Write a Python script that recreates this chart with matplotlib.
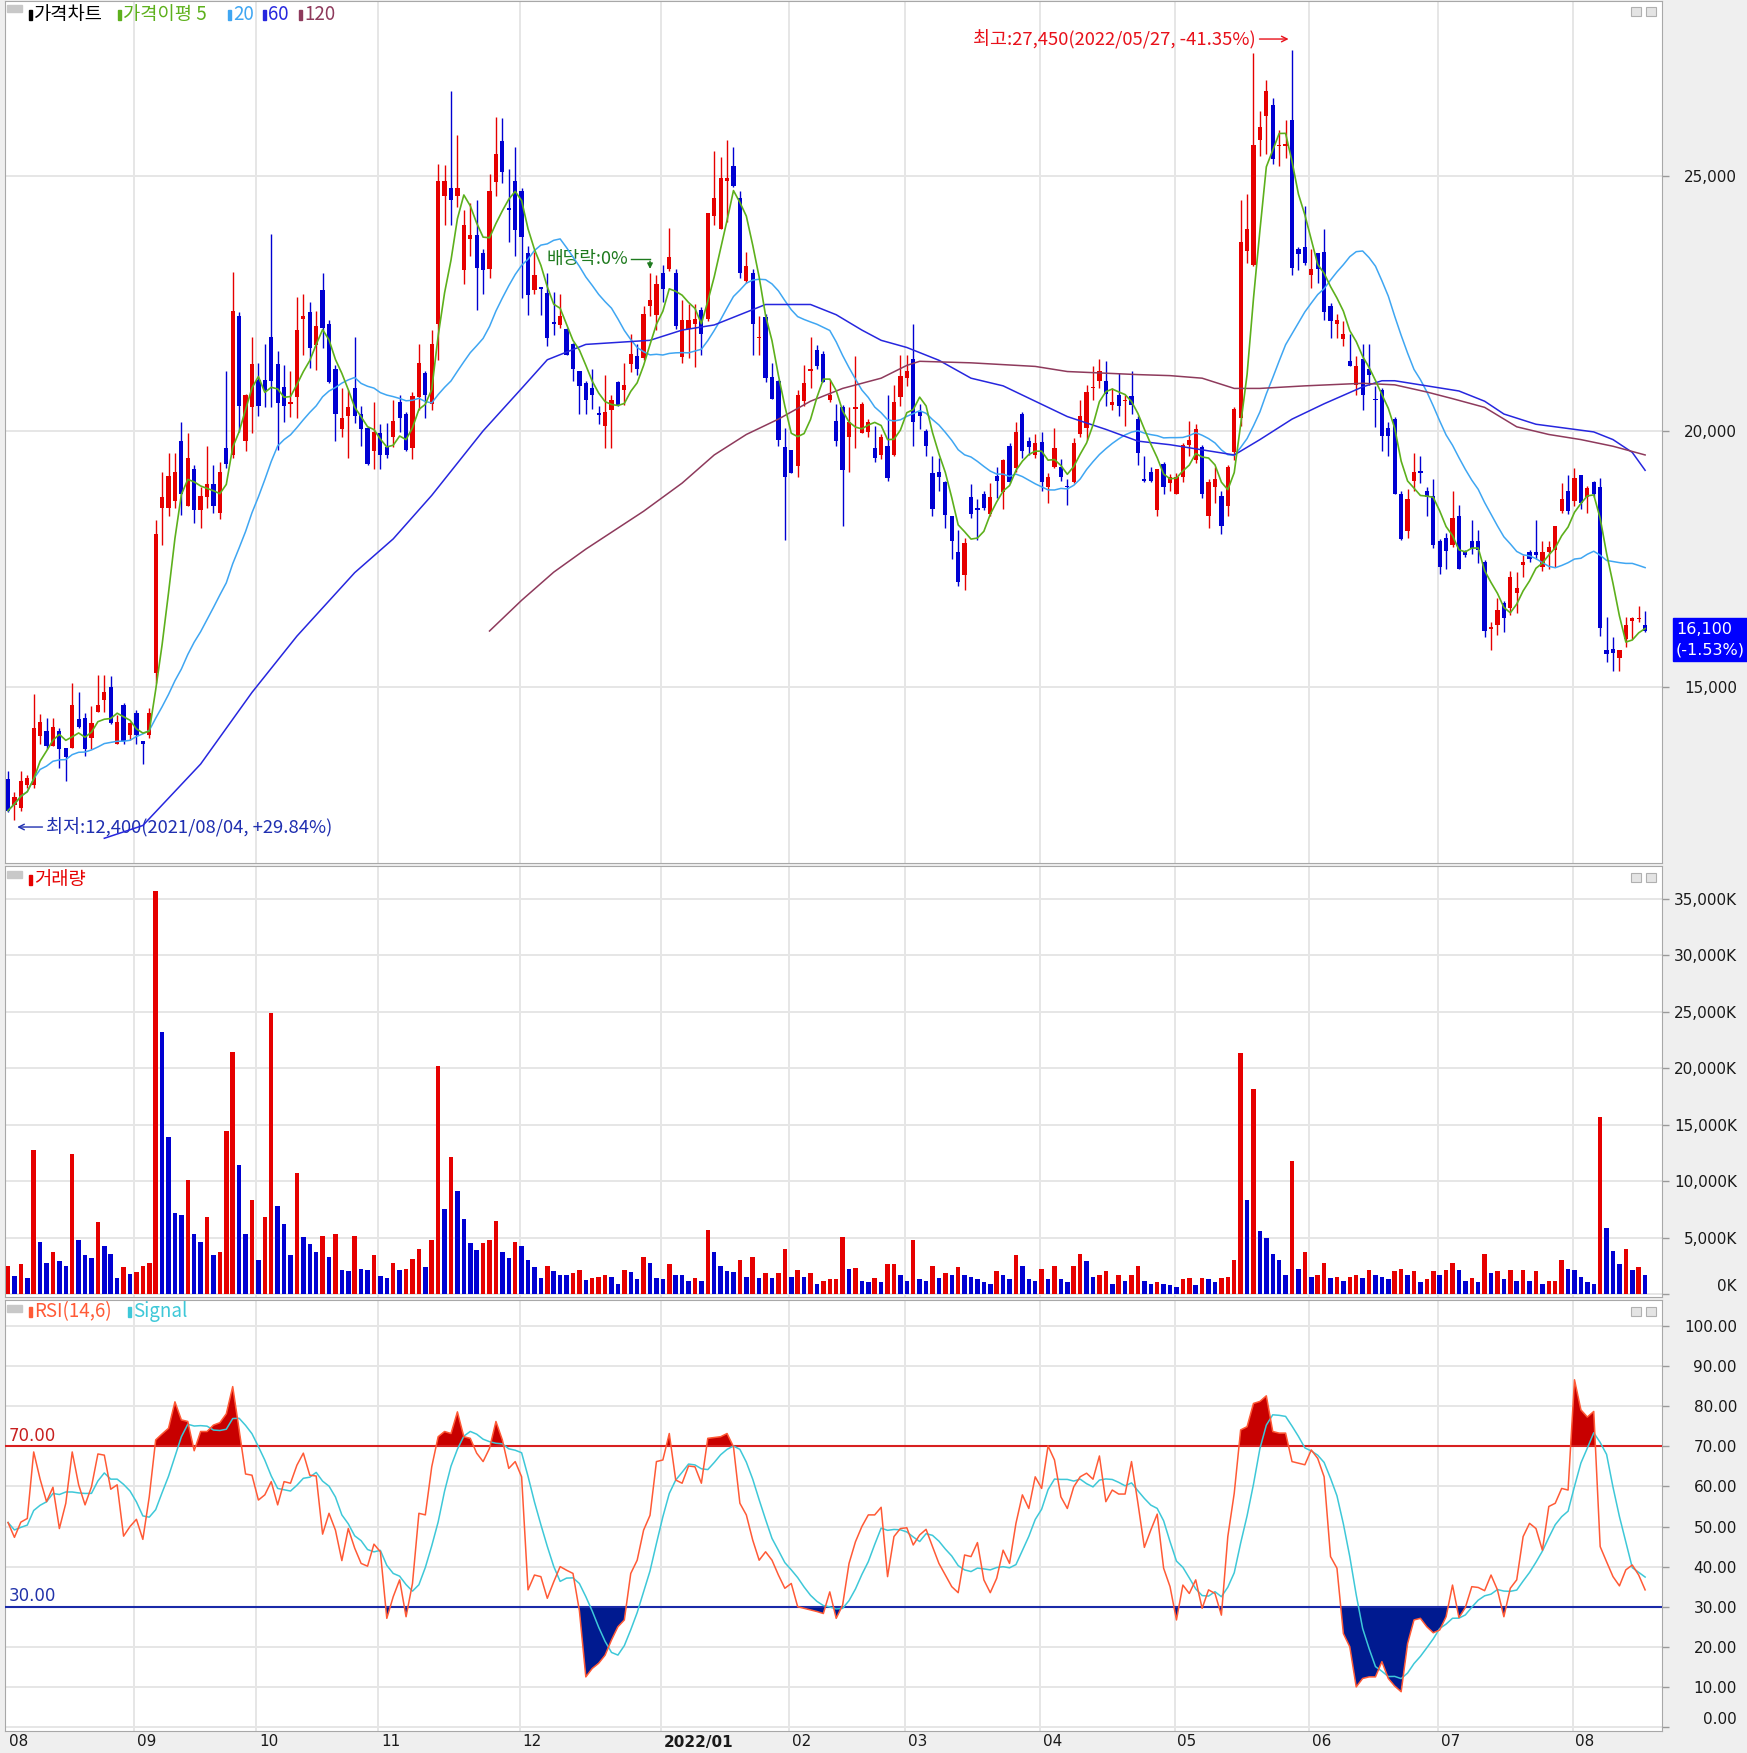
import numpy as np
import pandas as pd
import matplotlib
matplotlib.use("Agg")
import matplotlib.pyplot as plt
import matplotlib.transforms as mtrans
from matplotlib.patches import Rectangle

# daily candles, 2021/08/03 .. 2022/08/17 (index 0..255)
opens = [
    13210, 12700, 12650, 13100, 13100, 14050, 14150, 13850, 14150, 13810,
    13810, 14390, 14400, 14010, 14520, 14760, 15000, 13900, 14650, 14060,
    14500, 13950, 14060, 15280, 18500, 18500, 18640, 19810, 18540, 19270,
    18470, 18710, 18970, 18410, 19670, 19540, 22260, 19810, 20470, 21010,
    21010, 21850, 21320, 20860, 20540, 20670, 22200, 22330, 21680, 22760,
    22100, 21210, 20040, 20310, 20840, 20340, 20070, 19610, 19970, 19690,
    19890, 20570, 20340, 19670, 20670, 21140, 20540, 22100, 24600, 24760,
    24600, 23160, 23760, 23830, 23480, 23180, 24880, 25670, 24350, 24890,
    24700, 23480, 22760, 22830, 22700, 22130, 22080, 22010, 21710, 21190,
    20940, 20840, 20340, 20110, 20410, 20970, 20810, 21310, 21470, 21440,
    22460, 22270, 23100, 23180, 23100, 21450, 22000, 22090, 22380, 22200,
    24200, 23960, 24900, 25190, 24560, 22930, 23100, 21820, 22230, 21070,
    20990, 19690, 19640, 19320, 20590, 21190, 21590, 21510, 20610, 20210,
    20470, 19890, 20440, 19970, 19990, 19670, 19540, 19710, 19540, 20670,
    21040, 21410, 20370, 20010, 19190, 19210, 19010, 18340, 17650, 17200,
    18710, 18500, 18770, 18390, 19130, 18810, 19710, 19290, 20340, 19810,
    19540, 19790, 18910, 19310, 19310, 18930, 19010, 19940, 20070, 20840,
    20990, 20990, 20510, 20710, 20590, 20690, 20240, 19060, 19210, 18470,
    19370, 18990, 18770, 19110, 19740, 19440, 19690, 18340, 18910, 18740,
    18540, 19590, 20270, 23530, 23260, 25690, 26170, 26370, 25570, 25580,
    26090, 23560, 23600, 23060, 23480, 23500, 22460, 22100, 21800, 21370,
    20910, 21410, 21210, 20620, 20810, 20070, 20240, 18770, 18050, 19040,
    19200, 18840, 18740, 17850, 17920, 17780, 18340, 17650, 17850, 17850,
    17450, 16140, 16220, 16650, 16550, 16850, 17380, 17650, 17650, 17350,
    17650, 17680, 18440, 18840, 18640, 19140, 18710, 19010, 18910, 15720,
    15750, 15580, 15950, 16300, 16330, 16220]
highs = [
    13360, 12950, 13370, 13280, 14860, 14480, 14400, 14400, 14200, 13810,
    15080, 14900, 14500, 14630, 15250, 15250, 15220, 14450, 14700, 14330,
    14550, 13950, 14600, 18270, 19210, 19570, 19570, 20190, 19970, 19340,
    18910, 19710, 19340, 19410, 21190, 23120, 22330, 20740, 21850, 21340,
    21710, 23850, 21570, 21290, 21190, 22630, 22690, 22530, 22360, 23100,
    22180, 21290, 20840, 20810, 21840, 20490, 20090, 20570, 20140, 20170,
    20610, 20710, 20370, 20770, 21710, 21190, 21990, 25220, 25200, 26660,
    25790, 24330, 24460, 24530, 23560, 25020, 26150, 26120, 25130, 25550,
    24760, 23630, 23500, 22830, 23100, 22730, 22680, 22030, 21730, 21190,
    20990, 21210, 20490, 21110, 20710, 20990, 21340, 21900, 21710, 22460,
    23100, 23050, 23260, 23980, 23180, 22560, 22480, 22480, 22430, 24260,
    25480, 25360, 25700, 25560, 24700, 23500, 23180, 22260, 22300, 21340,
    21010, 20070, 19640, 20810, 21290, 21840, 21690, 21570, 21010, 20540,
    20510, 20470, 21470, 20570, 20240, 20110, 19940, 20710, 20910, 21490,
    21490, 22100, 20540, 20040, 19510, 19490, 19040, 18340, 18080, 17920,
    18970, 18670, 18840, 18990, 19310, 19470, 19770, 20190, 20370, 19890,
    19940, 19990, 19190, 20070, 19470, 19070, 19870, 20610, 20910, 21270,
    21410, 21370, 20840, 21140, 20710, 21190, 20310, 19510, 19310, 19270,
    19410, 19170, 19190, 19770, 20210, 20140, 19740, 19070, 19310, 18840,
    19340, 20470, 24530, 24630, 27390, 26270, 26870, 26520, 25890, 26090,
    27450, 23600, 24400, 23560, 23480, 23960, 22500, 22300, 22160, 21900,
    21470, 21710, 21710, 20890, 20840, 20190, 20290, 18840, 18870, 19570,
    19510, 18910, 19070, 17900, 18020, 18840, 18570, 17680, 18270, 18080,
    17480, 16280, 16750, 16680, 17280, 17250, 17580, 17680, 18270, 17850,
    17850, 18150, 18990, 19140, 19290, 19140, 18940, 19040, 19090, 16380,
    15980, 15720, 16380, 16380, 16580, 16500]
lows = [
    12570, 12400, 12580, 13040, 13040, 13900, 13800, 13850, 13430, 13160,
    13810, 14200, 13660, 13800, 14520, 14520, 14280, 13900, 13900, 13980,
    13900, 13500, 14000, 15080, 17780, 18350, 18500, 18370, 18540, 18210,
    18110, 18500, 18410, 18280, 19290, 19490, 19990, 19610, 19970, 20310,
    20470, 20470, 19640, 20190, 20290, 20270, 21490, 21240, 21200, 21630,
    20940, 19810, 19890, 19490, 20170, 19710, 19340, 19270, 19270, 19490,
    19690, 19990, 19610, 19470, 20410, 20270, 20410, 21390, 24040, 24040,
    24380, 22880, 23430, 22380, 22680, 23000, 24600, 24860, 23700, 23430,
    22600, 22270, 22680, 22270, 21660, 21880, 22030, 21490, 20990, 20340,
    20340, 20440, 20140, 19670, 19670, 20490, 20510, 21170, 21110, 21390,
    22260, 21990, 22530, 23130, 22000, 21340, 21430, 21260, 21500, 22160,
    24030, 23960, 24100, 24780, 23000, 22900, 21490, 21490, 20970, 20640,
    19710, 17880, 19190, 19110, 20490, 20840, 21210, 20970, 20570, 19710,
    18150, 19210, 19670, 19970, 19890, 19410, 19470, 19040, 19510, 20490,
    20890, 19710, 20040, 19510, 18340, 18840, 18110, 17500, 16980, 16900,
    18310, 17880, 18470, 18340, 18690, 18490, 18990, 19210, 19490, 19540,
    19490, 18840, 18610, 19290, 19040, 18570, 18990, 19890, 19840, 20610,
    20840, 20490, 20410, 20310, 20110, 20340, 19340, 19010, 19010, 18340,
    18770, 18840, 18770, 19010, 19510, 19390, 18690, 18110, 18610, 17990,
    18340, 19440, 20110, 23300, 23230, 25390, 25420, 25220, 25190, 25350,
    23060, 23160, 23260, 22800, 22900, 22180, 21830, 21830, 21660, 21270,
    20710, 20410, 20910, 20090, 19610, 19510, 18770, 17880, 17920, 18840,
    18990, 18340, 17720, 17220, 17320, 17750, 17320, 17550, 17600, 17420,
    15980, 15720, 16020, 16080, 16420, 16450, 17150, 17450, 17500, 17280,
    17320, 17350, 18410, 18390, 18540, 18490, 18410, 18710, 16000, 15500,
    15320, 15320, 15780, 15950, 16280, 16080]
closes = [
    12590, 12850, 13170, 13230, 14210, 14320, 13850, 14220, 13800, 13630,
    14660, 14230, 13800, 14300, 14650, 14900, 14300, 14320, 13960, 14300,
    14060, 13890, 14500, 18000, 18710, 19130, 19210, 18770, 19490, 18470,
    18730, 18970, 18540, 19210, 19370, 22360, 20490, 20710, 21310, 20490,
    20810, 20990, 20550, 20490, 20570, 21980, 22250, 21630, 22060, 22030,
    20970, 20340, 20270, 20470, 20310, 20040, 19370, 19990, 19540, 19540,
    20210, 20270, 19640, 20690, 21340, 20710, 21710, 24890, 24890, 24530,
    24760, 24030, 23830, 23200, 23160, 24700, 25420, 25070, 24330, 23930,
    23800, 22660, 23060, 22780, 21830, 22100, 22260, 21490, 21210, 20890,
    20610, 20710, 20330, 20370, 20610, 20510, 20910, 21510, 21210, 22300,
    22560, 22890, 22780, 23400, 22060, 22180, 22180, 22200, 21900, 24260,
    24560, 24950, 24960, 24800, 23100, 23230, 22100, 21850, 21040, 20640,
    19840, 19110, 19190, 20710, 20940, 21220, 21270, 20970, 20710, 19810,
    19240, 20190, 20470, 20540, 20190, 19490, 19890, 19090, 20570, 21090,
    21190, 20190, 20310, 19710, 18490, 19110, 18370, 17850, 17050, 17820,
    18390, 18470, 18510, 18710, 19040, 19440, 19010, 19990, 19610, 19690,
    19770, 19010, 19110, 19670, 19110, 18910, 19770, 20310, 20770, 20870,
    21190, 20740, 20570, 20490, 20610, 20510, 19570, 19040, 19040, 19270,
    18910, 19110, 19110, 19740, 19840, 20040, 18770, 19010, 19070, 18150,
    19310, 20440, 23700, 23960, 25590, 25950, 26650, 25320, 25600, 25600,
    23200, 23460, 23300, 23180, 23180, 22330, 22160, 22180, 21900, 21270,
    21270, 20710, 21110, 20610, 19910, 19910, 18770, 17900, 18670, 19210,
    19190, 18710, 17780, 17350, 17670, 18310, 17320, 17580, 17720, 17680,
    16100, 16160, 16520, 16350, 17150, 16950, 17450, 17500, 17580, 17650,
    17750, 18150, 18670, 18440, 19090, 18610, 18890, 18770, 16150, 15650,
    15680, 15720, 16220, 16350, 16350, 16100]

# volume in thousand shares
volumes = [
    2500, 1620, 2650, 1475, 12740, 4660, 2800, 3750, 2950, 2500,
    12450, 4780, 3480, 3190, 6400, 4280, 3600, 1475, 2420, 1770,
    1920, 2500, 2800, 35700, 23250, 13920, 7170, 7020, 10090, 5310,
    4660, 6790, 3480, 3750, 14460, 21480, 11420, 5310, 8350, 3040,
    6790, 24930, 7820, 6250, 3480, 10740, 5020, 4430, 3750, 5160,
    3300, 5310, 2120, 2010, 5160, 2270, 2120, 3480, 1620, 1475,
    2800, 2120, 2270, 3100, 3980, 2420, 4780, 20180, 7580, 12100,
    9150, 6640, 4510, 3890, 4510, 4780, 6490, 3750, 3190, 4660,
    4250, 3040, 2420, 1475, 2500, 2010, 1710, 1700, 1860, 2120,
    1240, 1475, 1500, 1710, 1560, 940, 2120, 2000, 1330, 3300,
    2800, 1475, 1330, 2650, 1710, 1700, 1180, 1475, 1180, 5690,
    3750, 2500, 2010, 2000, 3040, 1560, 3300, 1475, 1860, 1475,
    1860, 3980, 1560, 2120, 1560, 1860, 940, 1180, 1330, 1340,
    5070, 2270, 2300, 1180, 1060, 1475, 1060, 2650, 2660, 1710,
    1180, 4780, 1330, 1180, 2500, 1475, 1860, 1710, 2420, 1710,
    1560, 1330, 1060, 940, 2010, 1710, 1330, 3480, 2500, 1330,
    1180, 2270, 1330, 2500, 1330, 1060, 2500, 3600, 2950, 1560,
    1710, 2010, 940, 1710, 1180, 1710, 2500, 1180, 940, 1060,
    940, 770, 650, 1330, 1475, 830, 1475, 1330, 1060, 1475,
    1480, 3040, 21360, 8350, 18140, 5550, 4930, 3600, 3040, 1710,
    11800, 2270, 3750, 1560, 1710, 2800, 1475, 1560, 1180, 1560,
    1710, 1475, 2120, 1710, 1560, 1330, 2010, 2270, 1710, 2010,
    1060, 1330, 2010, 1710, 2120, 2800, 2120, 1180, 1475, 1060,
    3600, 1860, 2010, 1330, 2120, 1180, 2120, 1180, 2010, 940,
    1180, 1190, 3040, 2270, 2120, 1560, 1060, 940, 15640, 5840,
    3840, 2650, 3980, 2120, 2420, 1710]

rsi = [
    51.0, 47.3, 51.1, 52.0, 68.6, 61.8, 56.2, 59.8, 49.5, 55.8,
    68.6, 60.4, 55.4, 59.9, 68.1, 67.8, 59.3, 60.4, 47.6, 50.0,
    51.8, 46.8, 57.4, 71.6, 73.1, 74.5, 81.1, 76.6, 76.2, 68.9,
    73.7, 73.7, 75.3, 75.9, 78.1, 84.9, 74.1, 63.1, 62.8, 56.6,
    57.9, 61.2, 55.4, 61.2, 60.8, 65.3, 68.3, 62.8, 62.6, 48.1,
    53.3, 49.1, 41.5, 49.5, 44.6, 40.8, 40.1, 45.6, 43.7, 27.1,
    32.5, 36.7, 27.5, 35.8, 53.3, 52.9, 64.9, 72.4, 73.7, 73.2,
    78.6, 72.4, 72.0, 68.3, 66.2, 69.5, 76.2, 71.6, 64.5, 66.2,
    62.4, 34.2, 37.9, 37.5, 32.1, 36.2, 40.0, 39.1, 38.3, 29.0,
    12.5, 14.6, 15.9, 17.9, 21.7, 25.0, 26.7, 38.3, 41.6, 49.1,
    52.8, 66.2, 66.6, 73.2, 61.6, 60.8, 65.1, 64.9, 60.8, 72.0,
    72.2, 72.4, 73.2, 69.9, 55.8, 52.9, 46.6, 41.6, 43.7, 41.6,
    37.9, 34.6, 35.8, 30.0, 29.6, 29.2, 28.8, 28.3, 33.7, 27.1,
    30.4, 40.8, 46.2, 50.0, 52.9, 52.9, 54.8, 37.5, 47.5, 49.5,
    49.7, 45.4, 47.9, 49.3, 45.0, 40.8, 37.9, 35.0, 33.5, 42.9,
    42.5, 46.0, 36.7, 33.5, 37.1, 44.1, 40.8, 50.8, 57.9, 54.5,
    62.4, 59.5, 70.1, 66.6, 57.4, 54.5, 59.9, 62.4, 63.3, 61.8,
    67.6, 56.2, 59.1, 58.1, 58.1, 66.2, 55.8, 44.8, 49.1, 53.1,
    39.6, 35.0, 26.7, 35.4, 33.3, 36.7, 29.6, 34.2, 33.3, 27.9,
    47.5, 58.3, 74.1, 74.9, 80.7, 81.2, 82.6, 73.7, 73.3, 73.3,
    66.2, 65.8, 65.4, 69.1, 67.0, 62.4, 42.5, 39.6, 23.3, 20.0,
    10.0, 12.1, 12.5, 12.5, 16.3, 12.1, 10.2, 8.8, 20.8, 26.7,
    27.1, 25.0, 23.5, 24.2, 27.5, 35.4, 27.3, 29.8, 35.0, 34.8,
    34.0, 37.9, 34.2, 27.5, 34.6, 36.7, 47.5, 50.8, 49.5, 44.1,
    55.0, 55.8, 59.5, 59.1, 86.6, 79.1, 77.3, 78.7, 45.0, 41.2,
    37.5, 35.2, 39.2, 40.4, 37.9, 34.2]

# 60 / 120 day averages (they reach back before the window)
ma60_idx = [15, 21, 30, 38, 45, 54, 60, 66, 74, 80, 84, 90, 100, 105, 110, 115,
            118, 125, 129, 133, 136, 140, 145, 150, 155, 160, 165, 171, 176, 181,
            186, 191, 195, 200, 205, 211, 214, 216, 221, 226, 230, 233, 238, 244,
            247, 250, 253, 255]
ma60_val = [12050, 12300, 13500, 14900, 16000, 17240, 17900, 18750, 20010, 20840,
            21400, 21700, 21780, 21980, 22080, 22330, 22480, 22480, 22280, 21980,
            21780, 21640, 21390, 21040, 20890, 20590, 20290, 20040, 19810, 19740,
            19640, 19540, 19840, 20240, 20540, 20870, 20990, 20990, 20890, 20790,
            20590, 20340, 20140, 20040, 19990, 19840, 19590, 19240]
ma120_idx = [75, 80, 85, 90, 99, 105, 110, 115, 120, 125, 130, 136, 140, 142, 150,
             160, 165, 176, 181, 186, 191, 195, 202, 211, 216, 221, 225, 230, 235,
             240, 245, 250, 255]
ma120_val = [16100, 16700, 17250, 17700, 18440, 18990, 19540, 19940, 20240, 20590,
             20840, 21040, 21290, 21370, 21340, 21270, 21170, 21110, 21090, 21040,
             20840, 20840, 20890, 20940, 20910, 20770, 20640, 20470, 20090, 19940,
             19840, 19710, 19540]

month_labels = ["08", "09", "10", "11", "12", "2022/01", "02", "03", "04", "05", "06", "07", "08"]
month_start = [0, 20, 39, 58, 80, 102, 122, 140, 161, 182, 203, 223, 244]

price_ticks = [15000, 20000, 25000]
vol_ticks = list(range(0, 35001, 5000))
rsi_ticks = list(range(0, 101, 10))

RED = "#E60000"
BLUE = "#0000D2"
GRID = "#E6E6E6"
C5, C20, C60, C120 = "#5DB01C", "#3FA6F2", "#2626DE", "#8E3A5C"
C_RSI, C_SIG = "#FF5A36", "#3EC8D8"
KR = ["Noto Sans CJK KR", "DejaVu Sans"]

W, H = 1747, 1753
fig = plt.figure(figsize=(W / 100, H / 100), dpi=100, facecolor="#EFEFEF")


def fx(px):
    return px / W


def fy(py):
    return 1 - py / H


def add_panel(top, bottom):
    return fig.add_axes([fx(5), fy(bottom), (1662 - 5) / W, (bottom - top) / H])


def style_panel(ax, ticks, labels, ylim, zero_up=False):
    ax.set_facecolor("white")
    ax.set_xlim(-0.47, 257.63)
    ax.set_ylim(*ylim)
    ax.set_xticks([])
    ax.set_yticks(ticks)
    ax.set_yticklabels(labels)
    ax.tick_params(axis="y", left=False, labelleft=False, right=True, labelright=True,
                   length=5, width=1, color="#9A9A9A", pad=49, labelsize=11,
                   labelcolor="#1A1A1A")
    for i, t in enumerate(ax.yaxis.get_major_ticks()):
        t.label2.set_horizontalalignment("right")
        if zero_up and i == 0:
            t.label2.set_verticalalignment("bottom")
    for s in ax.spines.values():
        s.set_color("#A8A8A8")
    for t in ticks:
        ax.axhline(t, color=GRID, lw=1.4, zorder=0)
    for m in month_start[1:]:
        ax.axvline(m - 0.3, color=GRID, lw=1.4, zorder=0)


ax_p = add_panel(1, 863)
ax_v = add_panel(866, 1297)
ax_r = add_panel(1300, 1731)

style_panel(ax_p, price_ticks, [f"{t:,}" for t in price_ticks], (11567, 28410))
style_panel(ax_v, vol_ticks, [f"{t:,}K" for t in vol_ticks], (-250, 37900), zero_up=True)
style_panel(ax_r, rsi_ticks, [f"{t:.2f}" for t in rsi_ticks], (-1.0, 106.5), zero_up=True)

x = np.arange(len(closes))
o, hi, lo, c = (np.array(a, dtype=float) for a in (opens, highs, lows, closes))

# candles
ccol = np.where(c >= o, RED, BLUE)
ax_p.vlines(x, lo, hi, colors=ccol, lw=1.0, zorder=2)
ax_p.bar(x, np.maximum(np.abs(c - o), 30), bottom=np.minimum(o, c), width=0.66,
         color=ccol, lw=0, zorder=3)

# moving averages
close_s = pd.Series(c)
ax_p.plot(x, close_s.rolling(20, min_periods=1).mean(), color=C20, lw=1.1, zorder=4)
ax_p.plot(ma60_idx, ma60_val, color=C60, lw=1.1, zorder=4)
ax_p.plot(ma120_idx, ma120_val, color=C120, lw=1.1, zorder=4)
ax_p.plot(x, close_s.rolling(5, min_periods=1).mean(), color=C5, lw=1.2, zorder=5)

# annotations
ax_p.text(194.3, 27667, "최고:27,450(2022/05/27, -41.35%)", ha="right", va="center",
          color="#E8101A", fontsize=13.3, family=KR)
ax_p.annotate("", xy=(199.9, 27667), xytext=(194.5, 27667),
              arrowprops=dict(arrowstyle="->", color="#E8101A", lw=1.0))
ax_p.annotate("", xy=(1.0, 12270), xytext=(5.8, 12270),
              arrowprops=dict(arrowstyle="->", color="#1F2FB0", lw=1.0))
ax_p.text(5.9, 12270, "최저:12,400(2021/08/04, +29.84%)", ha="left", va="center",
          color="#1F2FB0", fontsize=13.3, family=KR)
ax_p.text(96.6, 23368, "배당락:0%", ha="right", va="center", color="#1E7A1E",
          fontsize=13, family=KR)
ax_p.plot([97.1, 100], [23368, 23368], color="#1E7A1E", lw=1.0)
ax_p.annotate("", xy=(100, 23120), xytext=(100, 23380),
              arrowprops=dict(arrowstyle="-|>", color="#1E7A1E", lw=1.0, mutation_scale=8))

# volume, red when volume rose from the day before
v = np.array(volumes, dtype=float)
vcol = [RED] + [RED if v[i] > v[i - 1] else BLUE for i in range(1, len(v))]
ax_v.bar(x, v, width=0.7, color=vcol, lw=0, zorder=3)

# RSI with signal
r = np.array(rsi)
sig = pd.Series(r).rolling(6, min_periods=1).mean()
ax_r.fill_between(x, r, 70, where=r >= 70, interpolate=True, color="#C80000", lw=0, zorder=2)
ax_r.fill_between(x, r, 30, where=r <= 30, interpolate=True, color="#001A90", lw=0, zorder=2)
ax_r.axhline(70, color="#D82020", lw=1.5, zorder=3)
ax_r.axhline(30, color="#1A2AA8", lw=1.5, zorder=3)
ax_r.plot(x, sig, color=C_SIG, lw=1.1, zorder=4)
ax_r.plot(x, r, color=C_RSI, lw=1.1, zorder=5)
lvl = mtrans.blended_transform_factory(ax_r.transAxes, ax_r.transData)
ax_r.text(0.002, 70.4, "70.00", transform=lvl, ha="left", va="bottom", color="#C82020", fontsize=12)
ax_r.text(0.002, 30.4, "30.00", transform=lvl, ha="left", va="bottom", color="#2233AA", fontsize=12)

# month labels along the bottom strip
tr = mtrans.blended_transform_factory(ax_r.transData, fig.transFigure)
for lab, m in zip(month_labels, month_start):
    bold = "bold" if "/" in lab else "normal"
    ax_r.text(m + 0.15, fy(1742), lab, transform=tr, ha="left", va="center",
              fontsize=11, fontweight=bold, color="#1A1A1A", clip_on=False)


# panel legends and the small window icons
def legend_items(y, items):
    for bx, label, col in items:
        fig.add_artist(Rectangle((fx(bx), fy(y + 5)), 3 / W, 10 / H,
                                 transform=fig.transFigure, color=col))
        fig.text(fx(bx + 5), fy(y), label, ha="left", va="center", color=col,
                 fontsize=13.5, family=KR)


def icons(top):
    fig.add_artist(Rectangle((fx(7), fy(top + 10)), 15 / W, 7 / H,
                             transform=fig.transFigure, color="#C8C8C8"))
    for bx in (1631, 1646):
        fig.add_artist(Rectangle((fx(bx), fy(top + 14)), 10 / W, 9 / H,
                                 transform=fig.transFigure, facecolor="#E4E4E4",
                                 edgecolor="#B0B0B0", lw=0.8))


legend_items(14.5, [(29, "가격차트", "#000000"), (118, "가격이평 5", C5),
                    (228, "20", C20), (263, "60", C60), (299, "120", C120)])
legend_items(880, [(29, "거래량", RED)])
legend_items(1312, [(29, "RSI(14,6)", C_RSI), (128, "Signal", C_SIG)])
for top in (2, 868, 1302):
    icons(top)

# last price box on the price scale
fig.add_artist(Rectangle((fx(1673), fy(661)), 74 / W, 43 / H,
                         transform=fig.transFigure, color="#0000FF"))
fig.text(fx(1676), fy(629), "16,100", color="white", fontsize=11.5, ha="left", va="center")
fig.text(fx(1676), fy(650), "(-1.53%)", color="white", fontsize=11.5, ha="left", va="center")

fig.savefig("out.png", dpi=100, facecolor=fig.get_facecolor())
